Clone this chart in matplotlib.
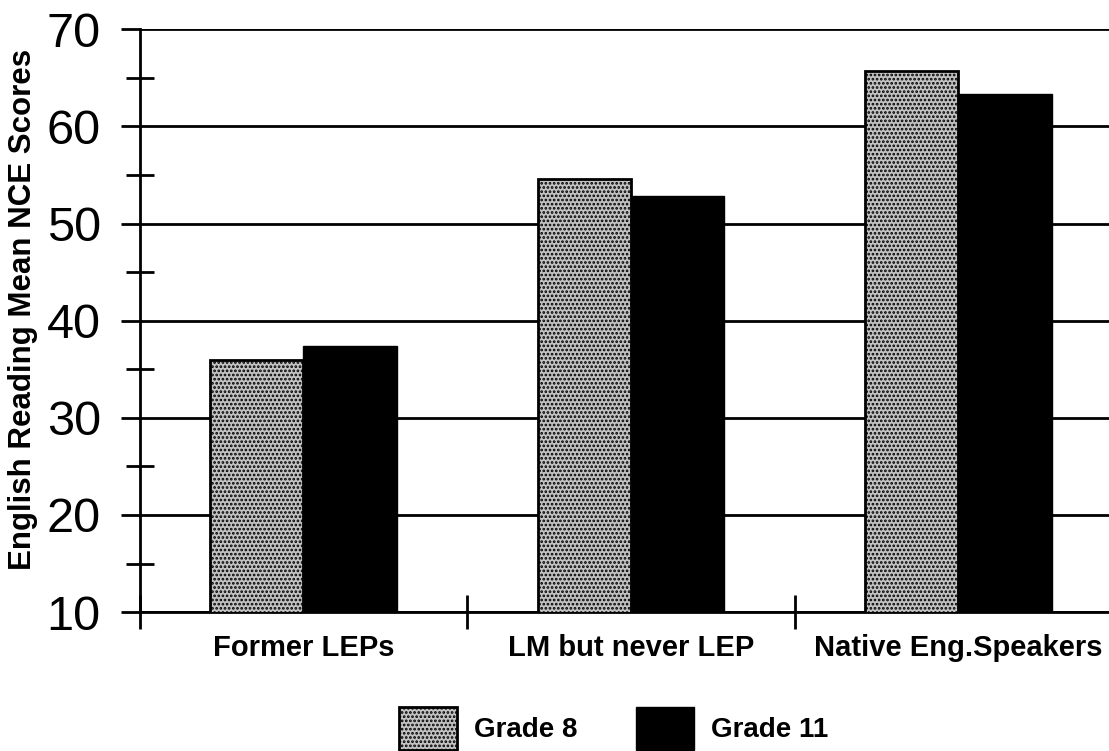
import matplotlib
matplotlib.use("Agg")
import matplotlib.pyplot as plt
import numpy as np
from matplotlib.ticker import MultipleLocator, FixedLocator, NullFormatter

# ## Data
categories = ["Former LEPs", "LM but never LEP", "Native Eng.Speakers"]
grade8 = [36.0, 54.6, 65.7]
grade11 = [37.4, 52.8, 63.3]
series_names = ["Grade 8", "Grade 11"]

plt.rcParams['font.family'] = ['Liberation Sans', 'DejaVu Sans']
plt.rcParams['hatch.linewidth'] = 1.3

fig = plt.figure(figsize=(11.09, 7.51), dpi=100)
ax = fig.add_axes([0.126, 0.185, 0.88, 0.776])

x = np.arange(len(categories))
width = 0.285

bars8 = ax.bar(x - width / 2, grade8, width, bottom=0, facecolor="#c2c2c2",
               edgecolor="black", hatch="....", linewidth=2, zorder=3,
               label=series_names[0])
bars11 = ax.bar(x + width / 2, grade11, width, color="black",
                edgecolor="black", linewidth=1, zorder=3,
                label=series_names[1])

ax.set_ylim(10, 70)
ax.set_xlim(-0.5, 2.48)

# y axis: major ticks with gridlines, minor ticks crossing the spine
ax.yaxis.set_major_locator(MultipleLocator(10))
ax.yaxis.set_minor_locator(MultipleLocator(5))
ax.tick_params(axis="y", which="major", direction="out", length=14, width=2,
               labelsize=35, pad=14)
ax.tick_params(axis="y", which="minor", direction="inout", length=20, width=2)
ax.grid(axis="y", which="major", color="black", linewidth=2, zorder=1)

# x axis: ticks at category boundaries, labels centered on categories
ax.xaxis.set_major_locator(FixedLocator([-0.5, 0.5, 1.5]))
ax.xaxis.set_major_formatter(NullFormatter())
ax.xaxis.set_minor_locator(FixedLocator(x))
ax.set_xticklabels(categories, minor=True, fontsize=21, fontweight="bold")
ax.tick_params(axis="x", which="major", direction="inout", length=24, width=2)
ax.tick_params(axis="x", which="minor", length=0, pad=16)

for side in ["top", "right"]:
    ax.spines[side].set_visible(False)
for side in ["left", "bottom"]:
    ax.spines[side].set_linewidth(2)

ax.set_ylabel("English Reading Mean NCE Scores", fontsize=22.5,
              fontweight="bold")
ax.yaxis.set_label_coords(-0.104, 0.52)

leg = fig.legend(handles=[bars8, bars11], labels=series_names,
                 loc="center", bbox_to_anchor=(0.553, 0.03), ncol=2,
                 frameon=False, prop={"size": 20, "weight": "bold"},
                 handlelength=2.1, handleheight=2.0, handletextpad=0.6,
                 columnspacing=2.1)

fig.savefig("out.png", dpi=100)
